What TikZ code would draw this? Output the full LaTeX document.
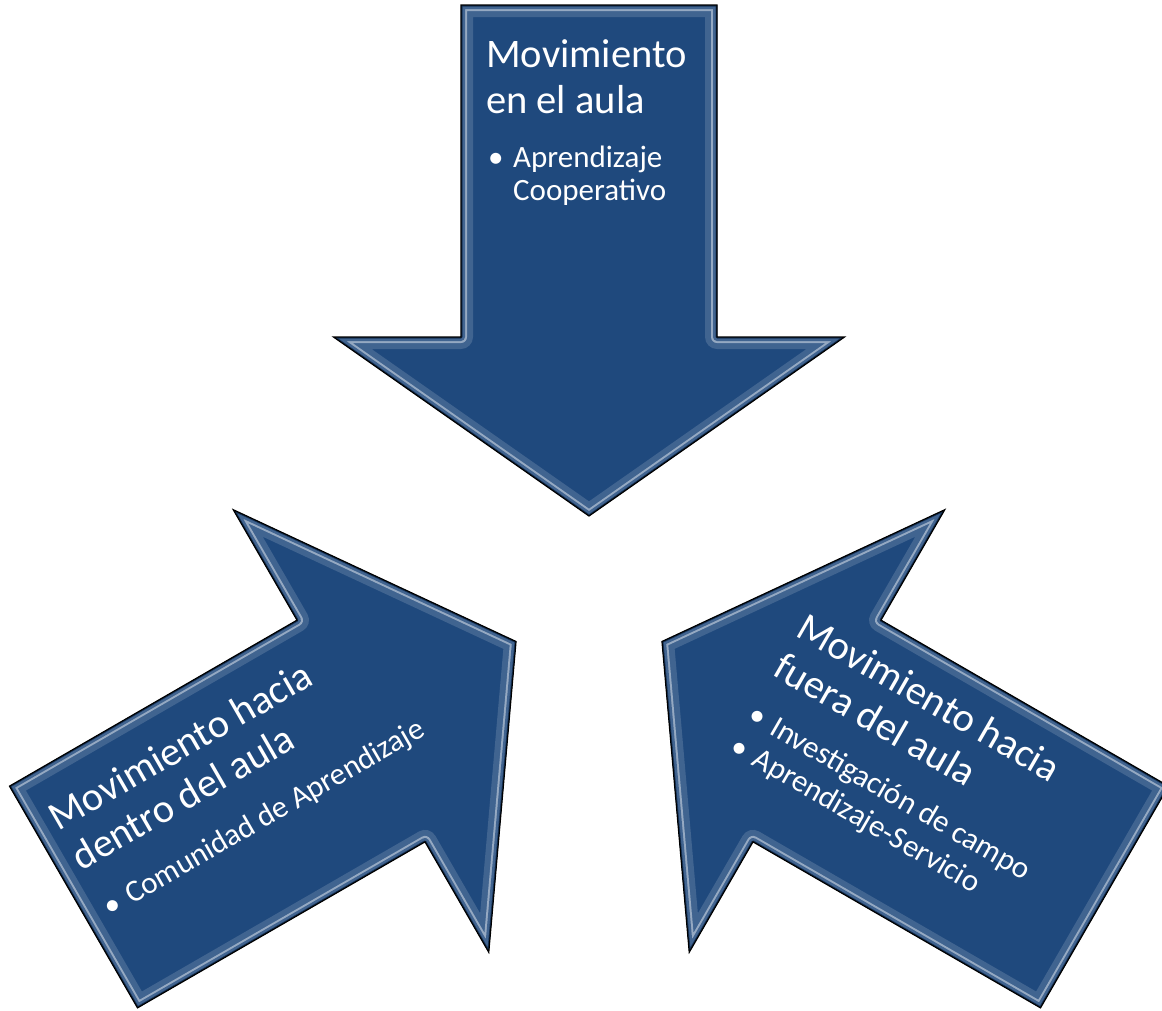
\documentclass[tikz,border=0pt]{standalone}
\usepackage{fontspec}
\setmainfont{Carlito}
\definecolor{azul}{RGB}{31,73,125}
\newcommand{\punto}{\makebox[25pt][l]{\textbullet}}
% contorno de una flecha que apunta hacia +x
\def\contorno{(0,-128) -- (332,-128) -- (332,-255.5) -- (511,0) -- (332,255.5) -- (332,128) -- (0,128) -- cycle}
\tikzset{
  bisel ancho/.style={line width=24pt, draw=azul!50!white, draw opacity=0.3, line join=round},
  bisel luz/.style={line width=12pt, draw=azul!40!white, draw opacity=0.85, line join=round},
  bisel medio/.style={line width=8pt, draw=azul!85!white, line join=round},
  bisel oscuro/.style={line width=3pt, draw=azul!70!black, line join=round},
  borde/.style={draw=black, line width=1.2pt, line join=miter},
  titulo/.style={text=white, font=\fontsize{40.5}{46}\selectfont, inner sep=0pt, anchor=base west},
  vineta/.style={text=white, font=\fontsize{31}{35}\selectfont, inner sep=0pt, anchor=base west},
  flecha/.pic={
    \fill[azul] \contorno;
    \begin{scope}
      \clip \contorno;
      \draw[bisel ancho] \contorno;
      \draw[bisel luz] \contorno;
      \draw[bisel medio] \contorno;
      \draw[bisel oscuro] \contorno;
    \end{scope}
    \draw[borde] \contorno;
  }
}
\begin{document}
\begin{tikzpicture}[x=1pt, y=-1pt]
    \useasboundingbox (0,0) rectangle (1162,1010);
    % flechas
    \pic[rotate=-90] at (589,5) {flecha};
    \pic[rotate=30] at (73.5,897) {flecha};
    \pic[rotate=150] at (1104.5,897) {flecha};
    % texto de arriba
    \begin{scope}[shift={(486,67)}]
        \node[titulo] (sup1) at (0,0) {Movimiento};
        \node[titulo] (sup2) at (0,46) {en el aula};
        \node[vineta] (sup3) at (2,100) {\punto Aprendizaje};
        \node[vineta] (sup4) at (27,133) {Cooperativo};
    \end{scope}
    % texto de la izquierda
    \begin{scope}[shift={(58.8,831.6)}, rotate=30, transform shape]
        \node[titulo] (izq1) at (0,0) {Movimiento hacia};
        \node[titulo] (izq2) at (0,46) {dentro del aula};
        \node[vineta] (izq3) at (2,100) {\punto Comunidad de Aprendizaje};
    \end{scope}
    % texto de la derecha
    \begin{scope}[shift={(794,635)}, rotate=-30, transform shape]
        \node[titulo] (der1) at (0,0) {Movimiento hacia};
        \node[titulo] (der2) at (0,46) {fuera del aula};
        \node[vineta] (der3) at (2,98) {\punto Investigación de campo};
        \node[vineta] (der4) at (2,134) {\punto Aprendizaje-Servicio};
    \end{scope}
\end{tikzpicture}
\end{document}
